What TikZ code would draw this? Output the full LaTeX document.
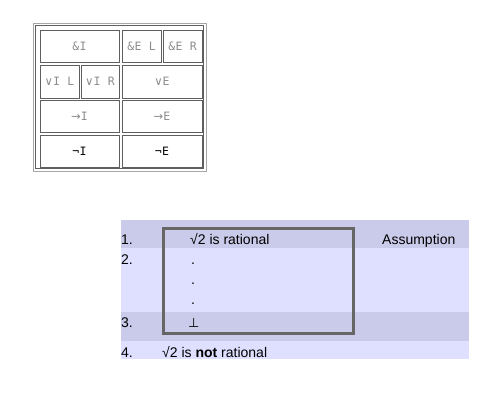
\documentclass[tikz,border=0pt]{standalone}
\usepackage{fontspec}
\setmainfont{Liberation Sans}
\newfontfamily\rulefont[LetterSpace=3]{DejaVu Sans Mono}
\newfontfamily\symfont{DejaVu Sans}
\usepackage{tikz}
\usetikzlibrary{positioning}
\definecolor{rowdark}{RGB}{202,202,234}
\definecolor{rowlight}{RGB}{223,223,255}
\definecolor{rulegray}{RGB}{140,140,140}
\definecolor{cellline}{RGB}{95,95,95}
\definecolor{subline}{RGB}{102,102,102}
\tikzset{
  cellbox/.style={draw=cellline,line width=0.9pt,inner sep=0pt,
    font=\rulefont\fontsize{11.5}{12}\selectfont,text=rulegray},
  proofline/.style={anchor=base west,inner sep=0pt,font=\fontsize{14}{16}\selectfont},
  subbox/.style={draw=subline,line width=3pt},
}
\newcommand{\rulecell}[7][]{%
  \node[cellbox,minimum width={#5-#3},minimum height={#6-#4},#1] (#2)
    at ({(#3+#5)/2},{(#4+#6)/2}) {#7};%
}

\begin{document}
\begin{tikzpicture}[x=1pt,y=-1pt]
  \useasboundingbox (0,0) rectangle (500,400);
  % table of rules
  \draw[black!35,line width=0.9pt] (33,23) rectangle (206,171);
  \draw[cellline,line width=0.9pt] (35.5,25.5) rectangle (203.5,168.5);
  \rulecell{andI}{40}{30}{119}{62}{\&I}
  \rulecell{andEL}{122}{30}{161}{62}{\&E L}
  \rulecell{andER}{163}{30}{202}{62}{\&E R}
  \rulecell{orIL}{40}{65}{79}{98}{\symfont∨\rulefont I L}
  \rulecell{orIR}{81}{65}{119}{98}{\symfont∨\rulefont I R}
  \rulecell{orE}{122}{65}{202}{98}{\symfont∨\rulefont E}
  \rulecell{impI}{40}{100}{119}{132}{\symfont→\rulefont I}
  \rulecell{impE}{122}{100}{202}{132}{\symfont→\rulefont E}
  \rulecell[text=black]{notI}{40}{135}{119}{167}{¬I}
  \rulecell[text=black]{notE}{122}{135}{202}{167}{¬E}
  % proof rows
  \fill[rowdark] (121,220) rectangle (469,248);
  \fill[rowlight] (121,248) rectangle (469,312);
  \fill[rowdark] (121,312) rectangle (469,341);
  \fill[rowlight] (121,341) rectangle (469,359);
  \draw[subbox] (163.5,228.5) rectangle (353.5,333.5);
  \node[proofline] (n1) at (121,244) {1.};
  \node[proofline] (n2) at (121,264) {2.};
  \node[proofline] (n3) at (121,327) {3.};
  \node[proofline] (n4) at (121,357) {4.};
  \node[proofline] (f1) at (190,244) {√2 is rational};
  \foreach \d/\y in {1/264,2/284,3/304}
    \node[proofline] (dot\d) at (191,\y) {.};
  \node[proofline] (f3) at (188,327) {\symfont\fontsize{13}{14}\selectfont ⊥};
  \node[proofline] (f4) at (162,357) {√2 is \textbf{not} rational};
  \node[proofline] (j1) at (382,244) {Assumption};
\end{tikzpicture}
\end{document}
